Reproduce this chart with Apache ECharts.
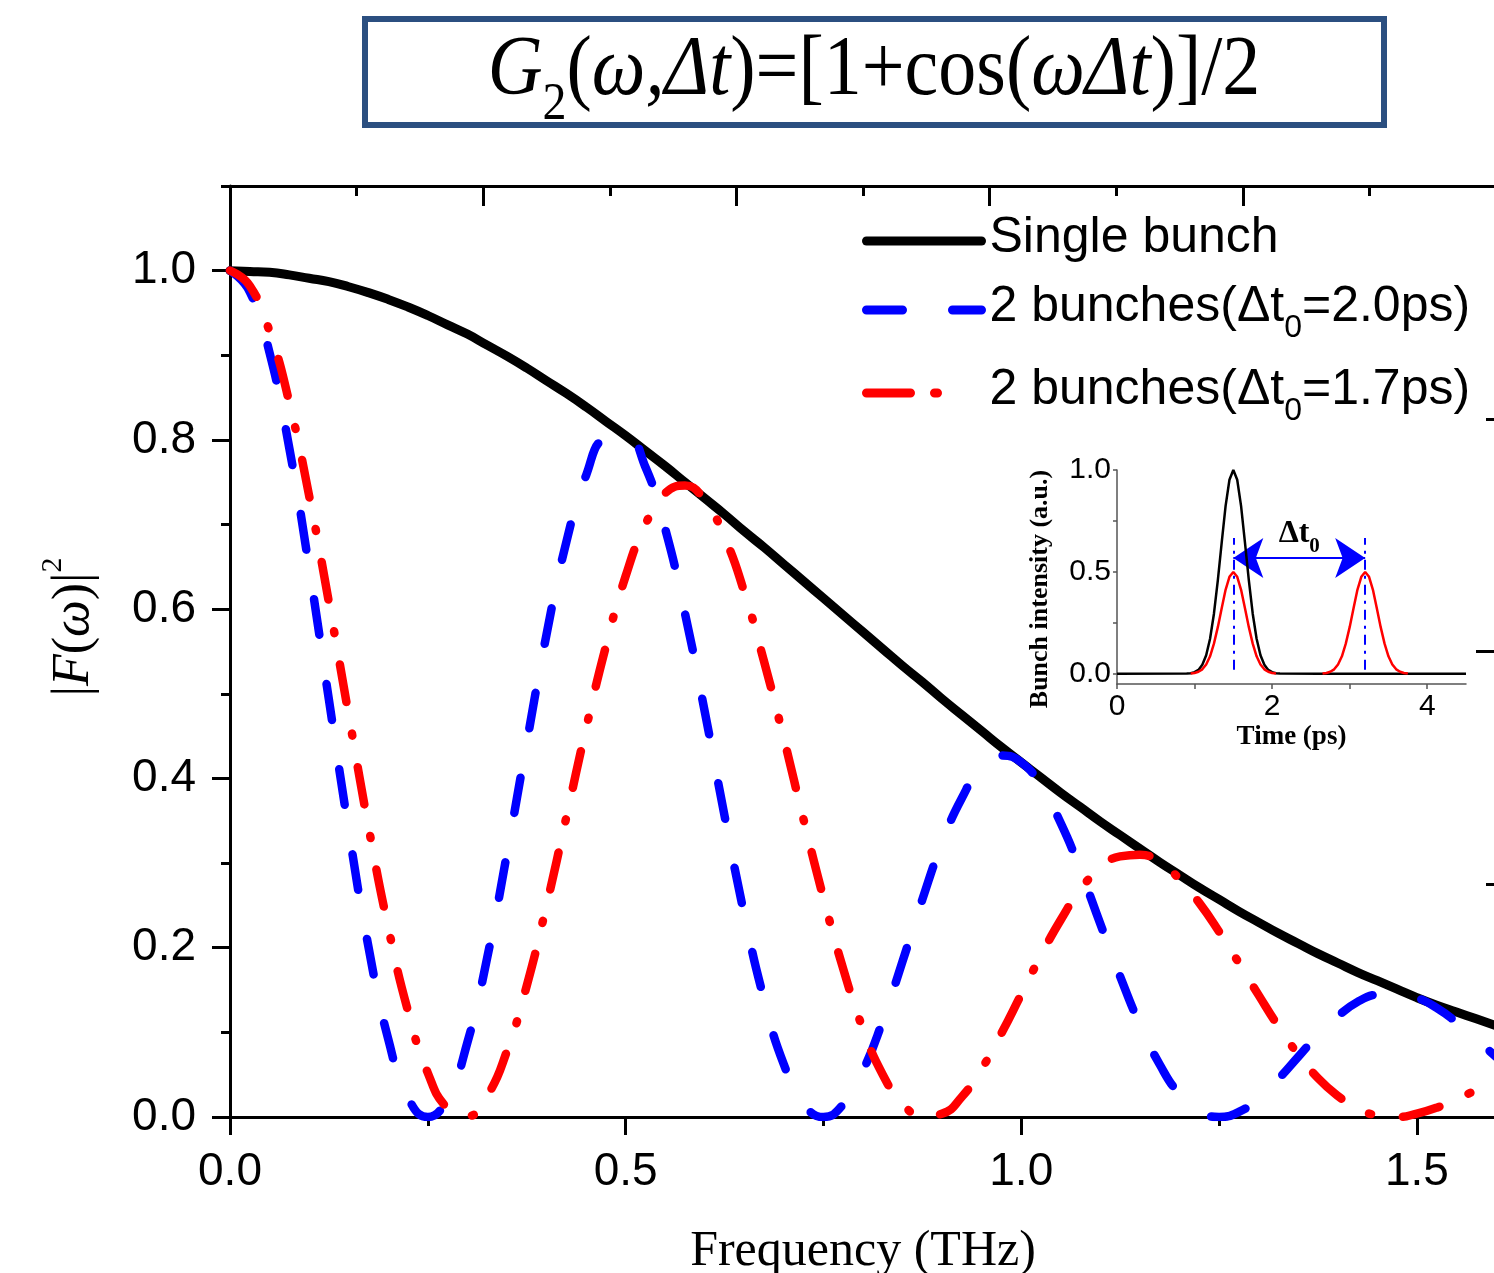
<!DOCTYPE html>
<html>
<head>
<meta charset="utf-8">
<script src="https://cdn.jsdelivr.net/npm/echarts@6/dist/echarts.min.js"></script>
<style>html,body{margin:0;padding:0;background:#fff}#c{width:1494px;height:1273px}</style>
</head>
<body>
<div id="c"></div>
<script>
// ---- main chart data (frequency in THz, |F(w)|^2) ----
const freq = [0,0.025,0.05,0.075,0.1,0.125,0.15,0.175,0.2,0.225,
  0.25,0.275,0.3,0.325,0.35,0.375,0.4,0.425,0.45,0.475,
  0.5,0.525,0.55,0.575,0.6,0.625,0.65,0.675,0.7,0.725,
  0.75,0.775,0.8,0.825,0.85,0.875,0.9,0.925,0.95,0.975,
  1.0,1.025,1.05,1.075,1.1,1.125,1.15,1.175,1.2,1.225,
  1.25,1.275,1.3,1.325,1.35,1.375,1.4,1.425,1.45,1.475,
  1.5,1.525,1.55,1.575,1.6];
const singleBunch = [1.000,0.999,0.998,0.995,0.991,0.987,0.981,0.974,0.966,0.957,
  0.947,0.936,0.925,0.912,0.899,0.885,0.870,0.855,0.839,0.822,
  0.805,0.787,0.769,0.750,0.731,0.712,0.692,0.673,0.653,0.633,
  0.613,0.593,0.573,0.553,0.533,0.514,0.494,0.475,0.456,0.437,
  0.419,0.401,0.383,0.366,0.349,0.333,0.317,0.301,0.286,0.271,
  0.257,0.243,0.230,0.217,0.205,0.193,0.182,0.171,0.161,0.151,
  0.141,0.132,0.124,0.116,0.108];
const twoBunch20 = [1.000,0.975,0.903,0.790,0.649,0.493,0.339,0.201,0.092,0.023,
  0.000,0.023,0.088,0.188,0.311,0.442,0.570,0.679,0.758,0.802,
  0.805,0.768,0.695,0.595,0.479,0.356,0.239,0.139,0.062,0.016,
  0.000,0.015,0.055,0.114,0.184,0.257,0.324,0.377,0.413,0.427,
  0.419,0.391,0.347,0.291,0.228,0.166,0.109,0.062,0.027,0.007,
  0.000,0.006,0.022,0.045,0.071,0.097,0.119,0.136,0.145,0.147,
  0.141,0.129,0.112,0.092,0.071];
const twoBunch17 = [1.000,0.982,0.928,0.844,0.734,0.608,0.475,0.343,0.224,0.125,
  0.052,0.010,0.001,0.025,0.078,0.155,0.250,0.354,0.459,0.556,
  0.639,0.700,0.737,0.746,0.728,0.685,0.620,0.538,0.447,0.351,
  0.259,0.175,0.104,0.050,0.016,0.001,0.004,0.024,0.057,0.099,
  0.145,0.191,0.233,0.269,0.294,0.308,0.310,0.301,0.281,0.253,
  0.219,0.182,0.144,0.107,0.074,0.046,0.025,0.010,0.002,0.000,
  0.004,0.011,0.021,0.032,0.044];
const seriesNames = ['Single bunch','2 bunches(Δt0=2.0ps)','2 bunches(Δt0=1.7ps)'];

// ---- inset data (time in ps, bunch intensity) ----
const insetTime = [0,
  0.9,0.95,1.0,1.05,1.1,1.15,1.2,1.25,1.3,1.35,1.4,1.45,1.5,1.55,1.6,1.65,1.7,1.75,1.8,1.85,1.9,1.95,2.0,2.05,2.1,
  2.6,2.65,2.7,2.75,2.8,2.85,2.9,2.95,3.0,3.05,3.1,3.15,3.2,3.25,3.3,3.35,3.4,3.45,3.5,3.55,3.6,3.65,3.7,3.75,3.8,
  4.5];
const insetSingle = [0,
  0.001,0.003,0.008,0.019,0.044,0.091,0.172,0.295,0.458,0.644,0.823,0.952,1.000,0.952,0.823,0.644,0.458,0.295,0.172,0.091,0.044,0.019,0.008,0.003,0.001,
  0,0,0,0,0,0,0,0,0,0,0,0,0,0,0,0,0,0,0,0,0,0,0,0,0,
  0];
const insetDouble = [null,
  null,0.001,0.004,0.010,0.022,0.046,0.086,0.148,0.229,0.322,0.412,0.476,0.500,0.476,0.412,0.322,0.229,0.148,0.086,0.046,0.022,0.010,0.004,0.001,null,
  null,0.001,0.004,0.010,0.022,0.046,0.086,0.148,0.229,0.322,0.412,0.476,0.500,0.476,0.412,0.322,0.229,0.148,0.086,0.046,0.022,0.010,0.004,0.001,null,
  null];
const pulseCentres = [1.5, 3.2];
const arrowLevel = 0.568;
const markerSpan = [0.02, 0.666];

// ---- ticks ----
const xMajorTicks = [0,0.5,1.0,1.5];
const xMinorTicks = [0.25,0.75,1.25];
const yMajorTicks = [0,0.2,0.4,0.6,0.8,1.0];
const yMinorTicks = [0.1,0.3,0.5,0.7,0.9,1.1];
const topMajorTicks = [0,0.32,0.64,0.96,1.28,1.6];
const topMinorTicks = [0.16,0.48,0.8,1.12,1.44];
const rightMajorTicks = [0,0.55,1.1];
const rightMinorTicks = [0.275,0.825];
const insetXTicks = [0,1,2,3,4];
const insetXLabels = [0,2,4];
const insetYTicks = [0,0.25,0.5,0.75,1.0];
const insetYLabels = [0,0.5,1.0];

const SANS = 'Liberation Sans';
const SERIF = 'Liberation Serif';
const chart = echarts.init(document.getElementById('c'), null, {renderer:'canvas'});

const axLine = {show:true, onZero:false, lineStyle:{color:'#000', width:3}};
const noLine = {show:false, onZero:false};
function tickCfg(vals, len, inside, color, width){
  return {show:true, customValues:vals, length:len, inside:!!inside, lineStyle:{color:color||'#000', width:width||3}};
}
const noLabel = {show:false};
function mainX(extra){ return Object.assign({type:'value', gridIndex:0, min:0, max:1.6, splitLine:{show:false}, axisLabel:noLabel}, extra); }
function mainY(extra){ return Object.assign({type:'value', gridIndex:0, min:0, max:1.1, splitLine:{show:false}, axisLabel:noLabel}, extra); }

const BLUE_DASH = [36,50];
const RED_DASH = [38,32,2,32];

const legendRich = {
  n:{fontFamily:SANS, fontSize:50, lineHeight:56, verticalAlign:'top', color:'#000'},
  s:{fontFamily:SANS, fontSize:32, lineHeight:32, verticalAlign:'top', padding:[30,0,0,0], color:'#000'}
};
function legendFmt(name){
  const p = name.split('Δt0');
  if (p.length === 1) return '{n|' + name + '}';
  return '{n|' + p[0] + 'Δt}{s|0}{n|' + p[1] + '}';
}
function legendAt(name, top, color, dash){
  return {data:[name], left:862, top:top, padding:0, itemWidth:115, itemHeight:10, selectedMode:false,
    formatter:legendFmt,
    itemStyle:{opacity:0},
    lineStyle:{color:color, width:9, type:dash, cap:'round'},
    textStyle:{color:'#000', padding:[0,0,0,3], rich:legendRich}};
}

const option = {
  backgroundColor:'#fff',
  animation:false,
  grid:[
    {left:230, top:186, width:1266, height:931, outerBoundsMode:'none', containLabel:false},
    {left:1117, top:470, width:349, height:214, outerBoundsMode:'none', containLabel:false}
  ],
  xAxis:[
    mainX({position:'bottom', axisLine:axLine, axisTick:tickCfg(xMajorTicks,18),
      axisLabel:{show:true, customValues:xMajorTicks, formatter:v=>v.toFixed(1), fontFamily:SANS, fontSize:46, color:'#000', margin:32},
      name:'Frequency (THz)', nameLocation:'middle', nameGap:110,
      nameTextStyle:{fontFamily:SERIF, fontSize:50, color:'#000'}}),
    mainX({position:'bottom', axisLine:noLine, axisTick:tickCfg(xMinorTicks,9)}),
    mainX({position:'top', axisLine:axLine, axisTick:tickCfg(topMajorTicks,20,true)}),
    mainX({position:'top', axisLine:noLine, axisTick:tickCfg(topMinorTicks,10,true)}),
    {type:'value', gridIndex:1, min:0, max:4.5, position:'bottom', splitLine:{show:false},
      axisLine:{show:true, onZero:false, lineStyle:{color:'#555', width:1.5}},
      axisTick:tickCfg(insetXTicks,5,false,'#555',1.5),
      axisLabel:{show:true, customValues:insetXLabels, fontFamily:SANS, fontSize:30, color:'#000', margin:8},
      name:'Time (ps)', nameLocation:'middle', nameGap:40,
      nameTextStyle:{fontFamily:SERIF, fontWeight:'bold', fontSize:27, color:'#000'}}
  ],
  yAxis:[
    mainY({position:'left', axisLine:axLine, axisTick:tickCfg(yMajorTicks,18),
      axisLabel:{show:true, customValues:yMajorTicks, formatter:v=>v.toFixed(1), fontFamily:SANS, fontSize:46, color:'#000', margin:34}}),
    mainY({position:'left', axisLine:noLine, axisTick:tickCfg(yMinorTicks,9)}),
    mainY({position:'right', axisLine:axLine, axisTick:tickCfg(rightMajorTicks,20,true)}),
    mainY({position:'right', axisLine:noLine, axisTick:tickCfg(rightMinorTicks,10,true)}),
    {type:'value', gridIndex:1, min:-0.05, max:1.0, position:'left', splitLine:{show:false},
      axisLine:{show:true, onZero:false, lineStyle:{color:'#555', width:1.5}},
      axisTick:tickCfg(insetYTicks,4,false,'#555',1.5),
      axisLabel:{show:true, customValues:insetYLabels, formatter:v=>v.toFixed(1), fontFamily:SANS, fontSize:30, color:'#000', margin:6}}
  ],
  legend:[
    legendAt(seriesNames[0], 213, '#000', 'solid'),
    legendAt(seriesNames[1], 282, '#0000ff', [36,50]),
    legendAt(seriesNames[2], 365, '#ff0000', [44,24,3,100])
  ],
  series:[
    {name:seriesNames[0], type:'line', xAxisIndex:0, yAxisIndex:0, showSymbol:false, symbol:'none', smooth:0.5,
      data:freq.map((f,i)=>[f, singleBunch[i]]),
      lineStyle:{color:'#000', width:9, cap:'round', join:'round'}, itemStyle:{color:'#000'}, z:2},
    {name:seriesNames[1], type:'line', xAxisIndex:0, yAxisIndex:0, showSymbol:false, symbol:'none', smooth:0.5,
      data:freq.map((f,i)=>[f, twoBunch20[i]]),
      lineStyle:{color:'#0000ff', width:8.5, type:BLUE_DASH, cap:'round', join:'round'}, itemStyle:{color:'#0000ff'}, z:3},
    {name:seriesNames[2], type:'line', xAxisIndex:0, yAxisIndex:0, showSymbol:false, symbol:'none', smooth:0.5,
      data:freq.map((f,i)=>[f, twoBunch17[i]]),
      lineStyle:{color:'#ff0000', width:8.5, type:RED_DASH, cap:'round', join:'round'}, itemStyle:{color:'#ff0000'}, z:4},
    {name:'inset single', type:'line', xAxisIndex:4, yAxisIndex:4, showSymbol:false, symbol:'none',
      data:insetTime.map((t,i)=>[t, insetSingle[i]]),
      lineStyle:{color:'#000', width:2.5}, z:5,
      markLine:{silent:true, symbol:'none', label:{show:false},
        lineStyle:{color:'#0000ff', width:2, type:[10,6,3,6]},
        data:pulseCentres.map(c=>[{coord:[c, markerSpan[0]]},{coord:[c, markerSpan[1]]}])}},
    {name:'inset double', type:'line', xAxisIndex:4, yAxisIndex:4, showSymbol:false, symbol:'none', connectNulls:false,
      data:insetTime.map((t,i)=>[t, insetDouble[i]]),
      lineStyle:{color:'#ff0000', width:2.5}, z:6,
      markLine:{silent:true, symbol:['arrow','arrow'], symbolSize:30,
        lineStyle:{color:'#0000ff', width:2, type:'solid'},
        label:{show:true, position:'middle', distance:6, formatter:'{b|Δt}{s|0}',
          rich:{b:{fontFamily:SERIF, fontWeight:'bold', fontSize:32, lineHeight:34, verticalAlign:'top', color:'#000'},
                s:{fontFamily:SERIF, fontWeight:'bold', fontSize:21, lineHeight:21, verticalAlign:'top', padding:[18,0,0,0], color:'#000'}}},
        data:[[{coord:[pulseCentres[0], arrowLevel]},{coord:[pulseCentres[1], arrowLevel]}]]}}
  ],
  graphic:[
    {type:'rect', z:10, shape:{x:365, y:19, width:1019, height:106}, style:{fill:'#fff', stroke:'#2b4f80', lineWidth:6}},
    {type:'text', z:11, x:874, y:74, scaleY:1.1,
      style:{text:'{i|G}{sb|2}{n|(}{i|ω,Δt}{n|)=[1+cos(}{i|ωΔt}{n|)]/2}', align:'center', verticalAlign:'middle', fill:'#000',
        rich:{
          n:{fontFamily:SERIF, fontSize:76, lineHeight:80, verticalAlign:'top', fill:'#000'},
          i:{fontFamily:SERIF, fontStyle:'italic', fontSize:76, lineHeight:80, verticalAlign:'top', fill:'#000'},
          sb:{fontFamily:SERIF, fontSize:48, lineHeight:48, verticalAlign:'top', padding:[44,0,0,0], fill:'#000'}
        }}},
    {type:'text', z:11, x:68, y:627, rotation:Math.PI/2,
      style:{text:'{n||}{i|F}{n|(}{i|ω}{n|)|}{sp|2}', align:'center', verticalAlign:'middle', fill:'#000',
        rich:{
          n:{fontFamily:SERIF, fontSize:52, lineHeight:60, verticalAlign:'top', padding:[10,0,0,0], fill:'#000'},
          i:{fontFamily:SERIF, fontStyle:'italic', fontSize:52, lineHeight:60, verticalAlign:'top', padding:[10,0,0,0], fill:'#000'},
          sp:{fontFamily:SERIF, fontSize:30, lineHeight:30, verticalAlign:'top', fill:'#000'}
        }}},
    {type:'text', z:11, x:1040, y:589, rotation:Math.PI/2,
      style:{text:'Bunch intensity (a.u.)', fontFamily:SERIF, fontWeight:'bold', fontSize:26, align:'center', verticalAlign:'middle', fill:'#000'}}
  ]
};
chart.setOption(option);
</script>
</body>
</html>
